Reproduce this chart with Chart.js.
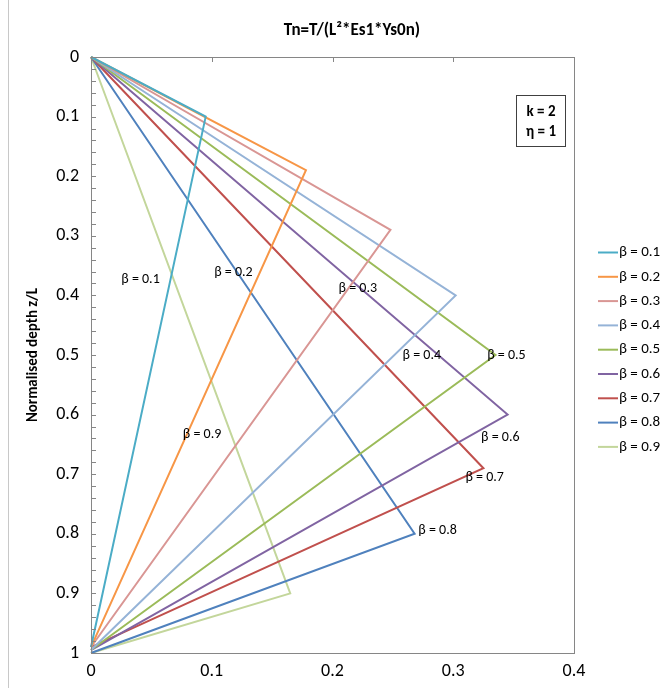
<!DOCTYPE html>
<html>
<head>
<meta charset="utf-8">
<script src="https://cdn.jsdelivr.net/npm/chart.js@4.4.1/dist/chart.umd.min.js"></script>
<style>
  html, body { margin: 0; padding: 0; background: #ffffff; }
  canvas { display: block; }
</style>
</head>
<body>
<canvas id="chart" width="665" height="688"></canvas>
<script>
// Tension profiles: each curve rises from the surface to a peak at depth β, then returns to zero at the base.
const betaLabels   = ['β = 0.1', 'β = 0.2', 'β = 0.3', 'β = 0.4', 'β = 0.5', 'β = 0.6', 'β = 0.7', 'β = 0.8', 'β = 0.9'];
const peakTension  = [0.095, 0.178, 0.248, 0.302, 0.335, 0.345, 0.325, 0.268, 0.165];
const peakDepth    = [0.10, 0.19, 0.29, 0.40, 0.50, 0.60, 0.69, 0.80, 0.90];
const baseDepth    = [0.99, 0.99, 0.99, 0.995, 0.995, 0.995, 0.99, 1.0, 1.0];
const seriesColors = ['#4BACC6', '#F79646', '#D99694', '#95B3D7', '#9BBB59', '#8064A2', '#C0504D', '#4F81BD', '#C3D69B'];

// Where each curve's β tag sits, in data units (tension, depth).
const tagTension = [0.041, 0.118, 0.221, 0.274, 0.344, 0.339, 0.326, 0.287, 0.092];
const tagDepth   = [0.374, 0.362, 0.388, 0.500, 0.500, 0.638, 0.706, 0.795, 0.634];

const xTickLabels = ['0', '0.1', '0.2', '0.3', '0.4'];
const yTickLabels = ['0', '0.1', '0.2', '0.3', '0.4', '0.5', '0.6', '0.7', '0.8', '0.9', '1'];

const chartTitle = 'Tn=T/(L²*Es1*Ys0n)';
const yAxisTitle = 'Normalised depth z/L';
const noteLines  = ['k = 2', 'η = 1'];

const FONT = 'Carlito, Lato, "Open Sans", sans-serif';

const datasets = betaLabels.map((label, i) => ({
  label,
  data: [
    { x: 0, y: 0 },
    { x: peakTension[i], y: peakDepth[i] },
    { x: 0, y: baseDepth[i] }
  ],
  borderColor: seriesColors[i],
  backgroundColor: seriesColors[i],
  borderWidth: 2,
  showLine: true,
  pointRadius: 0,
  pointHoverRadius: 0,
  tension: 0,
  clip: false
}));

const decorations = {
  id: 'decorations',
  afterDraw(chart) {
    const ctx = chart.ctx;
    const area = chart.chartArea;
    const xs = chart.scales.x;
    const ys = chart.scales.y;
    ctx.save();

    // outer frame edge
    ctx.strokeStyle = '#c8c8c8';
    ctx.lineWidth = 1;
    ctx.beginPath();
    ctx.moveTo(8.5, 0);
    ctx.lineTo(8.5, chart.height);
    ctx.stroke();

    // plot frame
    ctx.strokeStyle = '#868686';
    ctx.lineWidth = 1;
    ctx.strokeRect(Math.round(area.left) + 0.5, Math.round(area.top) + 0.5,
                   Math.round(area.right - area.left), Math.round(area.bottom - area.top));

    // depth ticks (major and minor), pointing inward
    ctx.beginPath();
    for (let k = 0; k <= 50; k++) {
      const py = Math.round(ys.getPixelForValue(k * 0.02)) + 0.5;
      ctx.moveTo(area.left, py);
      ctx.lineTo(area.left + 5, py);
    }
    // tension ticks along the zero-depth edge
    for (let k = 1; k < xTickLabels.length - 1; k++) {
      const px = Math.round(xs.getPixelForValue(k * 0.1)) + 0.5;
      const py0 = ys.getPixelForValue(0);
      ctx.moveTo(px, py0);
      ctx.lineTo(px, py0 + 5);
    }
    ctx.stroke();

    ctx.fillStyle = '#000000';
    // title
    ctx.font = 'bold 17px ' + FONT;
    ctx.textAlign = 'center';
    ctx.textBaseline = 'middle';
    ctx.fillText(chartTitle, 352, 31);

    // vertical axis title
    ctx.save();
    ctx.translate(33, (area.top + area.bottom) / 2);
    ctx.rotate(-Math.PI / 2);
    ctx.font = 'bold 15px ' + FONT;
    ctx.fillText(yAxisTitle, 0, 0);
    ctx.restore();

    // parameter note box
    ctx.strokeStyle = '#404040';
    ctx.strokeRect(516.5, 95.5, 49, 51);
    ctx.font = 'bold 15px ' + FONT;
    ctx.fillText(noteLines[0], 541, 112);
    ctx.fillText(noteLines[1], 541, 132);

    // curve tags
    ctx.font = '14px ' + FONT;
    betaLabels.forEach((label, i) => {
      ctx.fillText(label, xs.getPixelForValue(tagTension[i]), ys.getPixelForValue(tagDepth[i]));
    });

    // legend
    ctx.font = '15px ' + FONT;
    ctx.textAlign = 'left';
    chart.data.datasets.forEach((ds, i) => {
      const cy = 252.5 + i * 24.3;
      ctx.strokeStyle = ds.borderColor;
      ctx.lineWidth = 2;
      ctx.beginPath();
      ctx.moveTo(598, cy);
      ctx.lineTo(618, cy);
      ctx.stroke();
      ctx.fillStyle = '#000000';
      ctx.fillText(ds.label, 619, cy);
    });

    ctx.restore();
  }
};

new Chart(document.getElementById('chart'), {
  type: 'scatter',
  data: { datasets },
  plugins: [decorations],
  options: {
    responsive: false,
    animation: false,
    devicePixelRatio: 1,
    layout: { padding: { left: 0, top: 57, right: 91, bottom: 0 } },
    plugins: {
      legend: { display: false },
      tooltip: { enabled: false },
      title: { display: false }
    },
    scales: {
      x: {
        type: 'linear',
        position: 'bottom',
        min: 0,
        max: 0.4,
        grid: { display: false, drawTicks: false },
        border: { display: false },
        ticks: {
          stepSize: 0.1,
          padding: 8,
          color: '#000000',
          font: { family: FONT, size: 18 },
          callback: (v) => xTickLabels[Math.round(v / 0.1)]
        },
        afterFit: (s) => { s.height = 35; }
      },
      y: {
        type: 'linear',
        position: 'left',
        reverse: true,
        min: 0,
        max: 1,
        grid: { display: false, drawTicks: false },
        border: { display: false },
        ticks: {
          stepSize: 0.1,
          padding: 12,
          color: '#000000',
          font: { family: FONT, size: 18 },
          callback: (v) => yTickLabels[Math.round(v / 0.1)]
        },
        afterFit: (s) => { s.width = 91; }
      }
    }
  }
});
</script>
</body>
</html>
